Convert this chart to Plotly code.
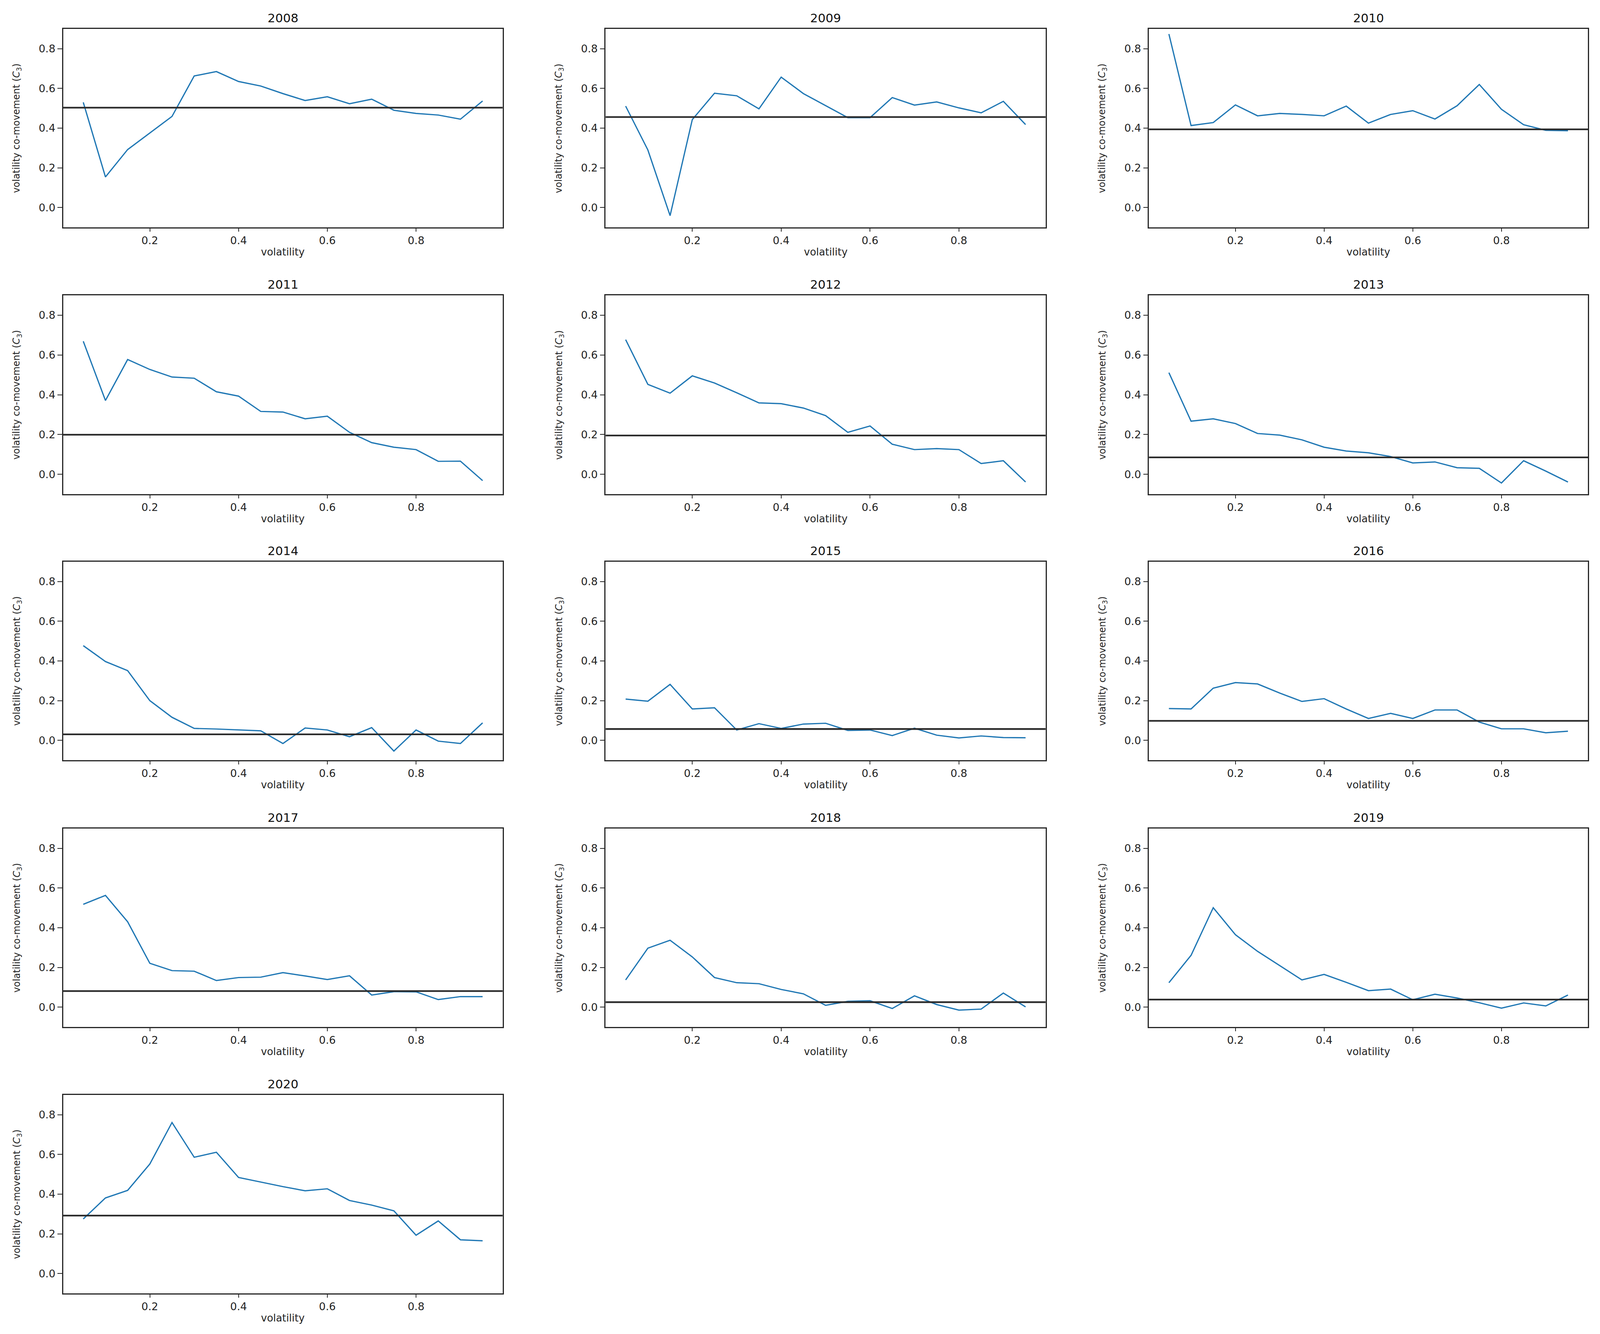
import plotly.graph_objects as go

# ---------------- data ----------------
years = ["2008", "2009", "2010", "2011", "2012", "2013", "2014",
         "2015", "2016", "2017", "2018", "2019", "2020"]

volatility = [0.05, 0.10, 0.15, 0.20, 0.25, 0.30, 0.35, 0.40, 0.45, 0.50,
              0.55, 0.60, 0.65, 0.70, 0.75, 0.80, 0.85, 0.90, 0.95]

c3_2008 = [0.530, 0.154, 0.292, 0.375, 0.459, 0.663, 0.685, 0.635, 0.612, 0.574,
           0.539, 0.558, 0.523, 0.546, 0.490, 0.474, 0.466, 0.445, 0.537]
c3_2009 = [0.511, 0.290, -0.041, 0.443, 0.576, 0.563, 0.497, 0.657, 0.574, 0.513,
           0.453, 0.453, 0.554, 0.516, 0.532, 0.502, 0.477, 0.535, 0.418]
c3_2010 = [0.874, 0.413, 0.428, 0.517, 0.462, 0.474, 0.469, 0.462, 0.511, 0.425,
           0.469, 0.488, 0.446, 0.513, 0.620, 0.495, 0.417, 0.389, 0.387]
c3_2011 = [0.669, 0.371, 0.577, 0.527, 0.489, 0.483, 0.415, 0.393, 0.316, 0.313,
           0.279, 0.292, 0.211, 0.159, 0.136, 0.124, 0.065, 0.066, -0.032]
c3_2012 = [0.677, 0.452, 0.408, 0.495, 0.459, 0.410, 0.359, 0.355, 0.333, 0.295,
           0.211, 0.243, 0.151, 0.124, 0.129, 0.124, 0.054, 0.068, -0.039]
c3_2013 = [0.511, 0.267, 0.279, 0.255, 0.205, 0.197, 0.173, 0.136, 0.117, 0.108,
           0.089, 0.057, 0.062, 0.033, 0.030, -0.044, 0.068, 0.016, -0.039]
c3_2014 = [0.477, 0.397, 0.351, 0.200, 0.116, 0.060, 0.057, 0.052, 0.048, -0.016,
           0.062, 0.052, 0.018, 0.064, -0.054, 0.052, -0.004, -0.016, 0.088]
c3_2015 = [0.208, 0.197, 0.282, 0.158, 0.164, 0.052, 0.084, 0.060, 0.082, 0.086,
           0.050, 0.052, 0.024, 0.061, 0.026, 0.012, 0.022, 0.014, 0.013]
c3_2016 = [0.160, 0.158, 0.263, 0.291, 0.284, 0.238, 0.196, 0.210, 0.158, 0.110,
           0.136, 0.110, 0.153, 0.153, 0.092, 0.058, 0.058, 0.038, 0.046]
c3_2017 = [0.518, 0.563, 0.430, 0.221, 0.184, 0.181, 0.134, 0.149, 0.151, 0.174,
           0.157, 0.139, 0.158, 0.061, 0.078, 0.077, 0.038, 0.053, 0.053]
c3_2018 = [0.137, 0.297, 0.337, 0.253, 0.149, 0.123, 0.118, 0.089, 0.067, 0.009,
           0.029, 0.032, -0.007, 0.057, 0.013, -0.015, -0.010, 0.071, 0.001]
c3_2019 = [0.123, 0.261, 0.501, 0.365, 0.281, 0.209, 0.137, 0.165, 0.125, 0.083,
           0.091, 0.037, 0.065, 0.046, 0.022, -0.005, 0.021, 0.006, 0.061]
c3_2020 = [0.275, 0.381, 0.419, 0.552, 0.761, 0.586, 0.611, 0.484, 0.461, 0.438,
           0.417, 0.427, 0.368, 0.345, 0.316, 0.193, 0.265, 0.170, 0.165]

series = [c3_2008, c3_2009, c3_2010, c3_2011, c3_2012, c3_2013, c3_2014,
          c3_2015, c3_2016, c3_2017, c3_2018, c3_2019, c3_2020]

# horizontal reference level per year
hline_levels = [0.503, 0.456, 0.394, 0.199, 0.195, 0.085, 0.030,
                0.057, 0.098, 0.081, 0.025, 0.038, 0.292]

x_ticks = [0.2, 0.4, 0.6, 0.8]
y_ticks = [0.0, 0.2, 0.4, 0.6, 0.8]
x_range = [0.005, 0.995]
y_range = [-0.1, 0.9]

x_label = "volatility"
y_label = "volatility co-movement (<i>C</i><sub>3</sub>)"

# ---------------- layout geometry (reference pixels -> paper fractions) ----------------
REF_W, REF_H = 5030, 3415
col_px = [(199, 1580), (1904, 3287), (3612, 4992)]
row_px = [(74, 582), (756, 1265), (1438, 1946), (2121, 2629), (2803, 3311)]
YLAB_GAP = 145   # distance of y-label centre left of the axis

FONT = "DejaVu Sans"
BLUE = "#1f77b4"
FRAME = "#262626"
TICK_SIZE = 27
TITLE_SIZE = 31
XLAB_SIZE = 26
YLAB_SIZE = 24

fig = go.Figure()
layout = dict(
    width=REF_W, height=REF_H,
    margin=dict(l=0, r=0, t=0, b=0, pad=0),
    paper_bgcolor="white", plot_bgcolor="white",
    showlegend=False,
    font=dict(family=FONT, color="#222222", size=TICK_SIZE),
)
annotations = []
shapes = []

for i, (yr, vals, lvl) in enumerate(zip(years, series, hline_levels)):
    r, c = divmod(i, 3)
    n = "" if i == 0 else str(i + 1)
    xa, ya = "x" + n, "y" + n
    x0, x1 = col_px[c]
    y0, y1 = row_px[r]
    xdom = [x0 / REF_W, x1 / REF_W]
    ydom = [1 - y1 / REF_H, 1 - y0 / REF_H]

    axis_common = dict(
        showgrid=False, zeroline=False,
        showline=True, linecolor=FRAME, linewidth=2.6, mirror=True,
        ticks="outside", tickwidth=2.2, tickcolor=FRAME,
        tickfont=dict(family=FONT, size=TICK_SIZE, color="#222222"),
    )
    layout["xaxis" + n] = dict(
        domain=xdom, range=x_range, anchor=ya, ticklen=8,
        tickvals=x_ticks, ticktext=[f"{v:.1f}" for v in x_ticks],
        **axis_common,
    )
    layout["yaxis" + n] = dict(
        domain=ydom, range=y_range, anchor=xa, ticklen=12,
        tickvals=y_ticks, ticktext=[f"{v:.1f}" for v in y_ticks],
        **axis_common,
    )

    fig.add_trace(go.Scatter(
        x=volatility, y=vals, mode="lines",
        line=dict(color=BLUE, width=3.2),
        xaxis=xa, yaxis=ya, hoverinfo="skip",
    ))

    shapes.append(dict(
        type="line", xref=xa + " domain", yref=ya,
        x0=0, x1=1, y0=lvl, y1=lvl,
        line=dict(color="#2b2b2b", width=4.3),
        layer="above",
    ))

    # subplot title
    annotations.append(dict(
        text=yr, xref=xa + " domain", yref=ya + " domain",
        x=0.5, y=1, yshift=8, xanchor="center", yanchor="bottom",
        showarrow=False, font=dict(family=FONT, size=TITLE_SIZE, color="#111111"),
    ))
    # x-axis label
    annotations.append(dict(
        text=x_label, xref=xa + " domain", yref=ya + " domain",
        x=0.5, y=0, yshift=-63, xanchor="center", yanchor="middle",
        showarrow=False, font=dict(family=FONT, size=XLAB_SIZE, color="#222222"),
    ))
    # y-axis label
    annotations.append(dict(
        text=y_label, xref="paper", yref=ya + " domain",
        x=(x0 - YLAB_GAP) / REF_W, y=0.5, xanchor="center", yanchor="middle",
        textangle=-90, showarrow=False,
        font=dict(family=FONT, size=YLAB_SIZE, color="#222222"),
    ))

layout["annotations"] = annotations
layout["shapes"] = shapes
fig.update_layout(**layout)

# fit the figure to the browser window it is opened in
fit_js = (
    "document.documentElement.style.margin='0';"
    "document.body.style.margin='0';"
    "document.body.style.overflow='hidden';"
    "var gd=document.getElementsByClassName('plotly-graph-div')[0];"
    "var o=new Object();o.width=window.innerWidth;o.height=window.innerHeight;"
    "Plotly.relayout(gd,o);"
)
fig.write_html("out.html", post_script=fit_js,
               config=dict(displayModeBar=False))
